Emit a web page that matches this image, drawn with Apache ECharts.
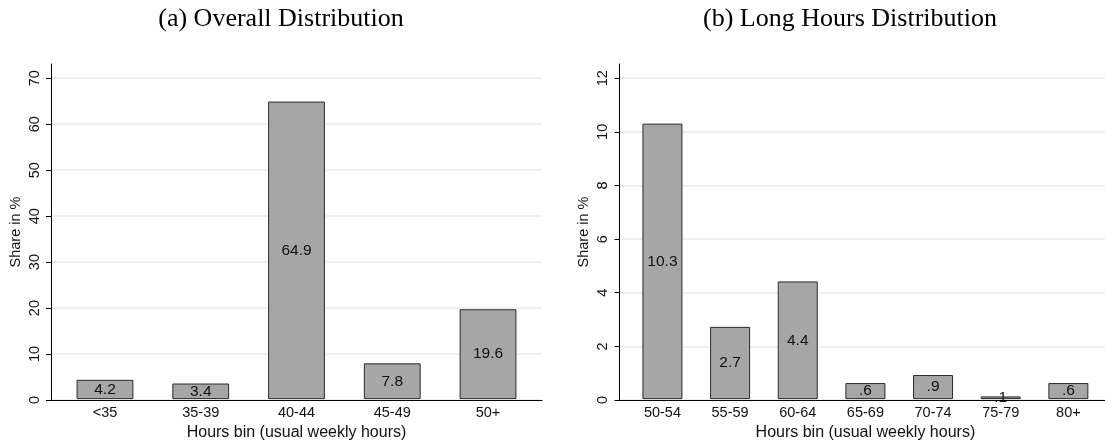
<!DOCTYPE html>
<html>
<head>
<meta charset="utf-8">
<script src="https://cdn.jsdelivr.net/npm/echarts@6/dist/echarts.min.js"></script>
<style>
html,body{margin:0;padding:0;background:#fff;}
#chart{width:1105px;height:446px;}
</style>
</head>
<body>
<div id="chart"></div>
<script>
// Panel (a): Overall distribution
const catsA = ['<35', '35-39', '40-44', '45-49', '50+'];
const valsA = [4.2, 3.4, 64.9, 7.8, 19.6];
const ticksA = [0, 10, 20, 30, 40, 50, 60, 70];
const maxA = 73.1;
// Panel (b): Long hours distribution
const catsB = ['50-54', '55-59', '60-64', '65-69', '70-74', '75-79', '80+'];
const valsB = [10.3, 2.7, 4.4, 0.6, 0.9, 0.1, 0.6];
const ticksB = [0, 2, 4, 6, 8, 10, 12];
const maxB = 12.53;

const titles = ['(a) Overall Distribution', '(b) Long Hours Distribution'];
const xTitle = 'Hours bin (usual weekly hours)';
const yTitle = 'Share in %';

const SANS = '"Liberation Sans", Arial, Helvetica, sans-serif';
const SERIF = '"Liberation Serif", "Times New Roman", serif';
const TOP = 64, BOTTOM_Y = 400, H = BOTTOM_Y - TOP;

function fmt(v) { return String(v).replace(/^0\./, '.'); }

const chart = echarts.init(document.getElementById('chart'), null, {renderer: 'canvas'});

function bgYAxis(gridIndex, max, interval, ticks) {
  return {
    gridIndex, type: 'value', min: 0, max, interval,
    name: yTitle, nameLocation: 'middle', nameGap: 28, nameRotate: 90,
    nameTextStyle: {fontFamily: SANS, fontSize: 14.5, color: '#111'},
    axisLine: {show: true, lineStyle: {color: '#000', width: 1}},
    axisTick: {show: true, length: 5, inside: false, customValues: ticks, lineStyle: {color: '#000'}},
    axisLabel: {show: true, rotate: 90, margin: 9, customValues: ticks,
      fontFamily: SANS, fontSize: 14.5, color: '#111'},
    splitLine: {show: true, lineStyle: {color: '#eaeaea', width: 1.5}}
  };
}
function bgXAxis(gridIndex) {
  return {
    gridIndex, type: 'value', min: 0, max: 1,
    axisLine: {show: true, onZero: false, lineStyle: {color: '#000', width: 1}},
    axisTick: {show: false}, axisLabel: {show: false}, splitLine: {show: false}
  };
}
function catXAxis(gridIndex, cats) {
  return {
    gridIndex, type: 'category', data: cats,
    name: xTitle, nameLocation: 'middle', nameGap: 24,
    nameTextStyle: {fontFamily: SANS, fontSize: 16, color: '#111'},
    axisLine: {show: false}, axisTick: {show: false},
    axisLabel: {margin: 6, fontFamily: SANS, fontSize: 14.5, color: '#111', interval: 0}
  };
}
function hiddenY(gridIndex, max) {
  return {gridIndex, type: 'value', min: 0, max, show: false, splitLine: {show: false}};
}
function barSeries(idx, vals, width) {
  return {
    type: 'bar', xAxisIndex: idx, yAxisIndex: idx, data: vals, barWidth: width,
    itemStyle: {color: '#a6a6a6', borderColor: '#2a2a2a', borderWidth: 1},
    label: {show: true, position: 'inside', formatter: p => fmt(p.value),
      fontFamily: SANS, fontSize: 15.5, color: '#111'},
    silent: true, animation: false
  };
}

const option = {
  animation: false,
  backgroundColor: '#fff',
  title: [
    {text: titles[0], left: 276, top: 1, textAlign: 'center',
      textStyle: {fontFamily: SERIF, fontSize: 26, fontWeight: 'normal', color: '#000'}},
    {text: titles[1], left: 845, top: 1, textAlign: 'center',
      textStyle: {fontFamily: SERIF, fontSize: 26, fontWeight: 'normal', color: '#000'}}
  ],
  grid: [
    {left: 51, top: TOP, width: 491, height: H},
    {left: 57.1, top: TOP, width: 478.8, height: H},
    {left: 619.5, top: TOP, width: 490, height: H},
    {left: 628.6, top: TOP, width: 473.6, height: H}
  ],
  xAxis: [bgXAxis(0), catXAxis(1, catsA), bgXAxis(2), catXAxis(3, catsB)],
  yAxis: [bgYAxis(0, maxA, 10, ticksA), hiddenY(1, maxA), bgYAxis(2, maxB, 2, ticksB), hiddenY(3, maxB)],
  series: [barSeries(1, valsA, 56.8), barSeries(3, valsB, 40)]
};
chart.setOption(option);
</script>
</body>
</html>
